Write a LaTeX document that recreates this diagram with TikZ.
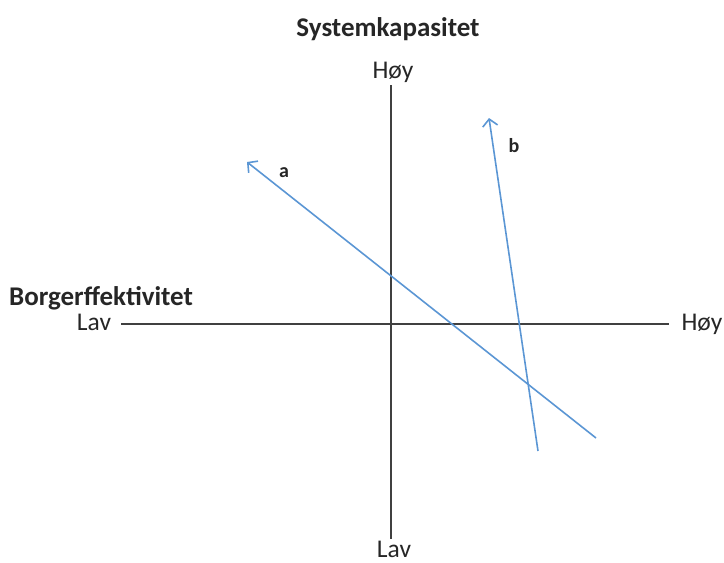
\documentclass[tikz,border=0pt]{standalone}
\usepackage{fontspec}
\setmainfont{Carlito}
\usetikzlibrary{arrows.meta}
\definecolor{axisgray}{RGB}{64,64,64}
\definecolor{arrblue}{RGB}{91,150,212}
\begin{document}
\begin{tikzpicture}[x=1pt,y=-1pt,
  axis/.style={draw=axisgray,line width=1.8pt},
  trend/.style={draw=arrblue,line width=1.6pt,-{Straight Barb[length=7pt,width=15pt]}},
  lbl/.style={font=\fontsize{25.5}{28}\selectfont,text=black!85,inner sep=0pt,anchor=base},
  ttl/.style={font=\fontsize{27}{30}\selectfont\bfseries,text=black!85,inner sep=0pt,anchor=base},
  let/.style={font=\fontsize{20}{22}\selectfont\bfseries,text=black!85,inner sep=0pt,anchor=base}]
\useasboundingbox (0,0) rectangle (724,563);
\coordinate (vt) at (391,85);
\coordinate (vb) at (391,539);
\coordinate (hl) at (121,324);
\coordinate (hr) at (669,324);
\draw[axis] (vt) -- (vb);
\draw[axis] (hl) -- (hr);
\node[ttl] (title) at (388,36) {Systemkapasitet};
\node[ttl,anchor=base west] (xtitle) at (9,305) {Borgerffektivitet};
\node[lbl] (ytop) at (393,78) {Høy};
\node[lbl] (ybot) at (394,557) {Lav};
\node[lbl] (xl) at (94,330) {Lav};
\node[lbl] (xr) at (702,330) {Høy};
\coordinate (a0) at (596,438);
\coordinate (a1) at (247,162);
\coordinate (b0) at (538,451);
\coordinate (b1) at (489,118);
\draw[trend] (a0) -- (a1);
\draw[trend] (b0) -- (b1);
\node[let] (la) at (284,177) {a};
\node[let] (lb) at (514,152) {b};
\end{tikzpicture}
\end{document}
